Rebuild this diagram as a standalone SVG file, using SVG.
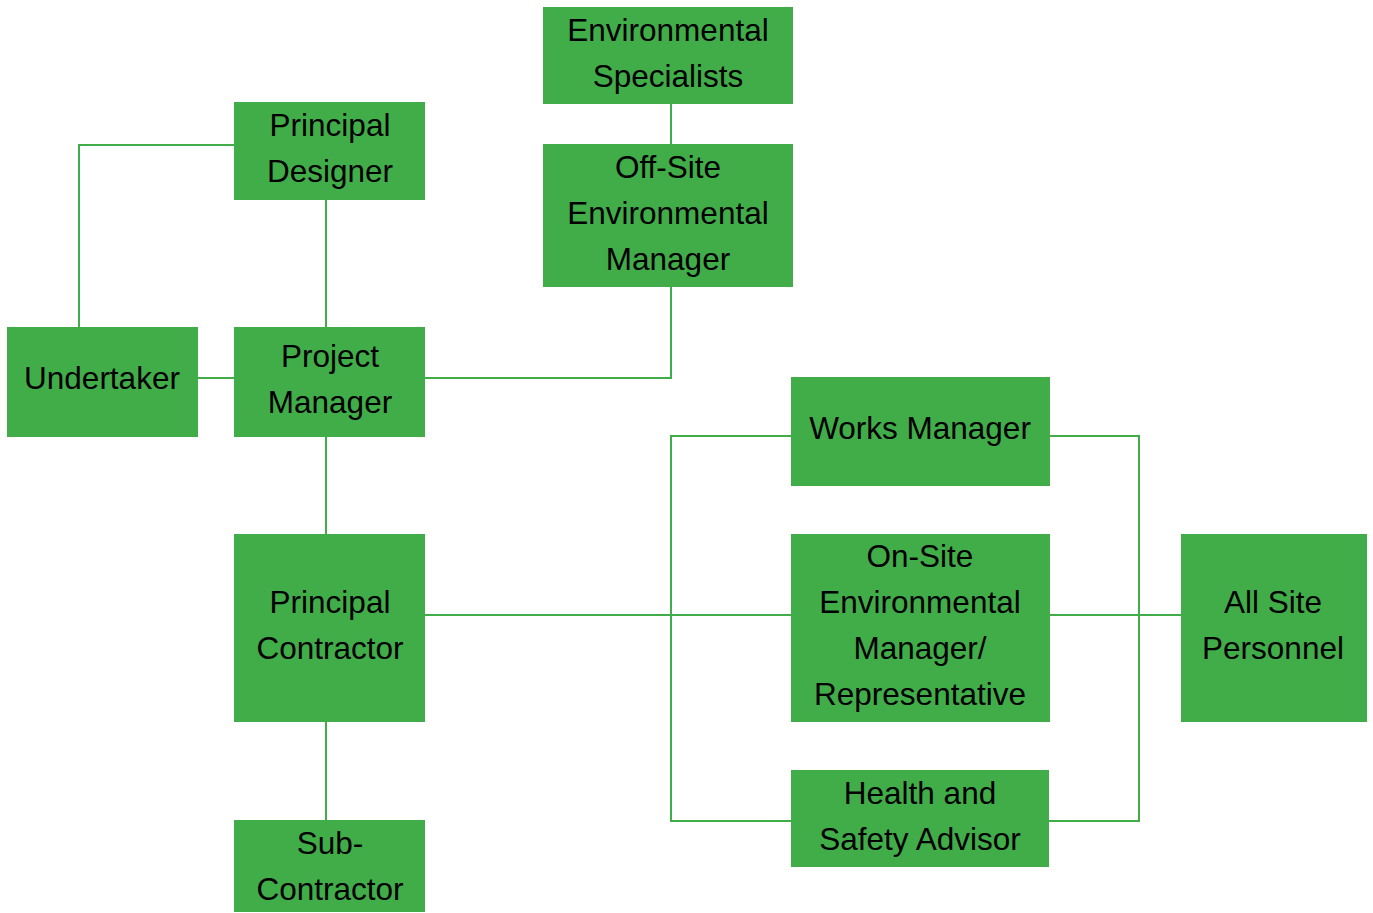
<svg xmlns="http://www.w3.org/2000/svg" width="1373" height="913" viewBox="0 0 1373 913">
<style>
.box{fill:#41AD49}
.lbl{font-family:"Liberation Sans",Arial,sans-serif;font-size:31.5px;fill:#000;text-anchor:middle}
.con{fill:none;stroke:#41AD49;stroke-width:2}
</style>
<rect width="1373" height="913" fill="#fff"/>
<g id="connectors">
<polyline class="con" points="234,145 79,145 79,327"/>
<line class="con" x1="326" y1="199" x2="326" y2="327"/>
<line class="con" x1="198" y1="378" x2="234" y2="378"/>
<line class="con" x1="671" y1="104" x2="671" y2="144"/>
<polyline class="con" points="425,378 671,378 671,287"/>
<line class="con" x1="326" y1="437" x2="326" y2="534"/>
<line class="con" x1="326" y1="722" x2="326" y2="820"/>
<line class="con" x1="425" y1="615" x2="791" y2="615"/>
<polyline class="con" points="791,436 671,436 671,821 791,821"/>
<polyline class="con" points="1050,436 1139,436 1139,821 1049,821"/>
<line class="con" x1="1050" y1="615" x2="1181" y2="615"/>
</g>
<g id="env-specialists">
<rect class="box" x="543" y="7" width="250" height="97"/>
<text class="lbl" x="668" y="41">Environmental</text>
<text class="lbl" x="668" y="87">Specialists</text>
</g>
<g id="principal-designer">
<rect class="box" x="234" y="102" width="191" height="98"/>
<text class="lbl" x="330" y="136">Principal</text>
<text class="lbl" x="330" y="182">Designer</text>
</g>
<g id="offsite-env-manager">
<rect class="box" x="543" y="144" width="250" height="143"/>
<text class="lbl" x="668" y="178">Off-Site</text>
<text class="lbl" x="668" y="224">Environmental</text>
<text class="lbl" x="668" y="270">Manager</text>
</g>
<g id="undertaker">
<rect class="box" x="7" y="327" width="191" height="110"/>
<text class="lbl" x="102" y="389">Undertaker</text>
</g>
<g id="project-manager">
<rect class="box" x="234" y="327" width="191" height="110"/>
<text class="lbl" x="330" y="367">Project</text>
<text class="lbl" x="330" y="413">Manager</text>
</g>
<g id="works-manager">
<rect class="box" x="791" y="377" width="259" height="109"/>
<text class="lbl" x="920" y="439">Works Manager</text>
</g>
<g id="principal-contractor">
<rect class="box" x="234" y="534" width="191" height="188"/>
<text class="lbl" x="330" y="613">Principal</text>
<text class="lbl" x="330" y="659">Contractor</text>
</g>
<g id="onsite-env-manager">
<rect class="box" x="791" y="534" width="259" height="188"/>
<text class="lbl" x="920" y="567">On-Site</text>
<text class="lbl" x="920" y="613">Environmental</text>
<text class="lbl" x="920" y="659">Manager/</text>
<text class="lbl" x="920" y="705">Representative</text>
</g>
<g id="all-site-personnel">
<rect class="box" x="1181" y="534" width="186" height="188"/>
<text class="lbl" x="1273" y="613">All Site</text>
<text class="lbl" x="1273" y="659">Personnel</text>
</g>
<g id="health-safety-advisor">
<rect class="box" x="791" y="770" width="258" height="97"/>
<text class="lbl" x="920" y="804">Health and</text>
<text class="lbl" x="920" y="850">Safety Advisor</text>
</g>
<g id="sub-contractor">
<rect class="box" x="234" y="820" width="191" height="92"/>
<text class="lbl" x="330" y="854">Sub-</text>
<text class="lbl" x="330" y="900">Contractor</text>
</g>
</svg>
